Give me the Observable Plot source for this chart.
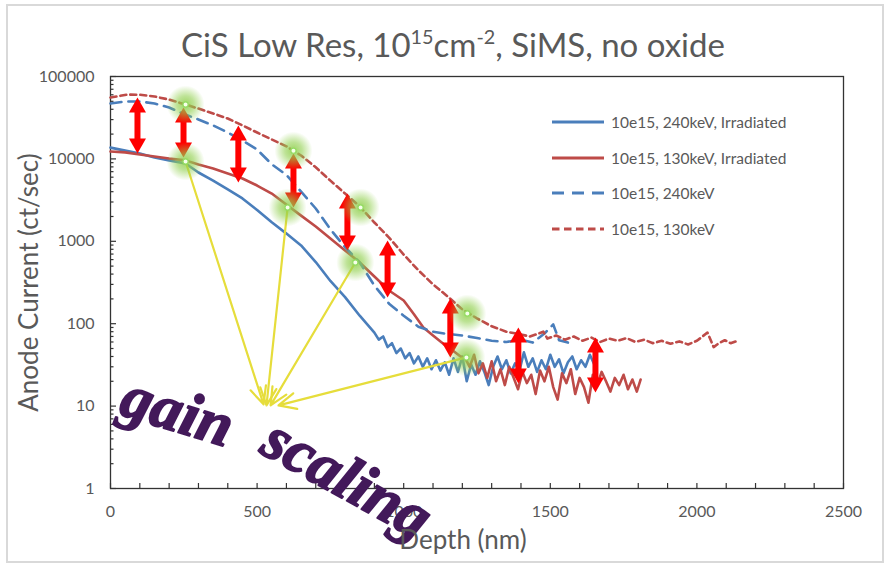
<!DOCTYPE html>
<html><head><meta charset="utf-8">
<script src="https://cdn.jsdelivr.net/npm/d3@7"></script>
<script src="https://cdn.jsdelivr.net/npm/@observablehq/plot@0.6"></script>
<style>
body{margin:0;background:#fff;}
#wrap{position:relative;width:894px;height:566px;overflow:hidden;font-family:Lato,"Open Sans",sans-serif;color:#595959;}
#border{position:absolute;left:6px;top:4px;width:878px;height:559px;border:2px solid #d9d9d9;box-sizing:border-box;}
#title{position:absolute;left:0;width:906px;top:25px;text-align:center;font-size:33px;line-height:38px;color:#595959;}
#title sup{font-size:0.6em;vertical-align:0.65em;line-height:0;}
#chart{position:absolute;left:0;top:0;}
#legend{position:absolute;left:552px;top:104px;font-size:15.5px;color:#595959;}
.row{height:35.7px;display:flex;align-items:center;}
.row svg{margin-right:7px;}
</style>
</head><body>
<div id="wrap">
  <div id="border"></div>
  <div id="chart"></div>
  <div id="title">CiS Low Res, 10<sup>15</sup>cm<sup>-2</sup>, SiMS, no oxide</div>
  <div id="legend"></div>
</div>
<script>
// ---------- data (depth in nm, anode current in ct/sec) ----------
const seriesNames = ["10e15, 240keV, Irradiated", "10e15, 130keV, Irradiated", "10e15, 240keV", "10e15, 130keV"];
const seriesColors = ["#4a7ebb", "#be4b48", "#4a7ebb", "#be4b48"];
const seriesDash = [null, null, "11,7", "6,4"];

const irr240Depth = [0,50,100,150,200,256,300,350,400,450,500,550,600,650,700,750,800,850,900,915,930,945,960,975,990,1005,1020,1035,1050,1065,1080,1095,1110,1125,1140,1155,1170,1185,1200,1215,1230,1245,1260,1275,1290,1305,1320,1335,1350,1365,1380,1395,1410,1425,1440,1455,1470,1485,1500,1515,1530,1545,1560,1575,1590,1605,1620,1635,1650];
const irr240Value = [13700,12600,11600,10400,9600,8800,6840,5450,4260,3310,2400,1700,1240,890,560,330,210,125,78,64,70,52,58,44,50,38,44,33,40,30,38,28,36,27,34,24,38,26,40,20,32,24,35,26,18,30,40,28,36,25,33,27,45,30,38,26,36,28,42,30,37,25,34,40,28,36,30,42,32];

const irr130Depth = [0,50,100,150,200,256,300,350,400,450,500,550,604,650,700,750,800,850,900,950,1000,1035,1067,1100,1135,1165,1194,1210,1225,1240,1255,1270,1285,1300,1315,1330,1345,1360,1375,1390,1405,1420,1435,1450,1465,1480,1495,1510,1525,1540,1555,1570,1585,1600,1615,1630,1645,1660,1675,1690,1705,1720,1735,1750,1765,1780,1795,1808];
const irr130Value = [12300,12000,11300,10700,10100,9600,8530,7640,6650,5780,4750,3800,2720,2050,1510,1080,775,553,374,253,191,130,90,72,57,48,40,38,30,42,25,33,22,35,20,28,18,30,22,16,26,19,24,14,27,20,30,17,12,25,19,28,14,22,17,11,24,18,26,20,15,22,18,24,16,21,15,21];

const ref240Depth = [0,50,100,150,200,256,300,350,400,450,500,550,600,650,700,750,800,850,900,950,1000,1050,1100,1150,1200,1250,1300,1350,1400,1440,1480,1510,1530,1560];
const ref240Value = [47000,49700,49700,47000,42000,34500,30100,25500,20900,16700,13000,8600,6400,4000,2500,1400,850,553,290,175,125,92,80,75,72,67,62,60,64,59,76,98,63,59];

const ref130Depth = [0,58,100,150,200,256,300,350,400,450,500,550,600,650,700,750,800,850,900,950,1000,1050,1100,1150,1200,1250,1300,1350,1400,1430,1460,1476,1490,1520,1550,1580,1610,1640,1670,1700,1730,1760,1790,1820,1850,1880,1910,1940,1970,2000,2036,2057,2075,2095,2115,2138];
const ref130Value = [55600,60300,60000,57200,52500,45700,40800,35600,30900,25500,20900,17200,14200,11000,7900,5450,3800,2650,1690,1110,690,445,300,214,149,116,93,80,74,70,76,80,66,72,64,70,62,68,60,66,62,67,60,64,58,62,57,61,56,62,78,52,58,63,58,62];

// axis ticks
const xTickLabels = [0,500,1000,1500,2000,2500];
const yTickLabels = [1,10,100,1000,10000,100000];

// annotations: red double arrows (gap between curves)
const arrowDepth  = [92,249,436,624,808,945,1159,1391,1654];
const arrowTop    = [55600,42000,25500,11600,3800,1020,202,90,68];
const arrowBottom = [11600,10400,5170,2570,775,208,39,18.8,14.6];

// green highlight points
const glowDepth = [256,256,624,604,853,835,1217,1214];
const glowValue = [45700,9300,12600,2570,2570,553,133,39];

// yellow arrows ("gain scaling")
const yellowFromDepth = [256,604,835,1214];
const yellowFromValue = [9300,2570,553,39];
const yellowToDepth   = [522,532,546,573];
const yellowToValue   = [10.5,10.2,10.2,10.2];

// hand-written note
const noteText  = ["gain","scaling"];
const noteDepth = [228,808];
const noteValue = [8.6,1.32];
const noteAngle = [17,29];

// ---------- build ----------
const depths = [irr240Depth, irr130Depth, ref240Depth, ref130Depth];
const values = [irr240Value, irr130Value, ref240Value, ref130Value];
const rows = depths.map((ds, k) => ds.map((d, i) => ({depth: d, value: values[k][i]})));

const headUp = {draw(ctx){ ctx.moveTo(0,0); ctx.lineTo(8.5,15); ctx.lineTo(-8.5,15); ctx.closePath(); }};
const headDown = {draw(ctx){ ctx.moveTo(0,0); ctx.lineTo(8.5,-15); ctx.lineTo(-8.5,-15); ctx.closePath(); }};

const arrowIdx = arrowDepth.map((_, i) => i);
const glowIdx = glowDepth.map((_, i) => i);
const yIdx = yellowFromDepth.map((_, i) => i);
const noteIdx = noteText.map((_, i) => i);

const yAllTicks = d3.scaleLog().domain([1, 100000]).ticks();
const xAllTicks = d3.range(0, 2501, 100);

const marks = [
  Plot.axisX({ticks: xTickLabels, tickSize: 0, tickPadding: 17, fontSize: 16, tickFormat: d => String(d), label: null}),
  Plot.axisY({ticks: yTickLabels, tickSize: 0, tickPadding: 16, fontSize: 16, tickFormat: d => String(d), label: null}),
  Plot.ruleX(xAllTicks, {x: d => d, y1: 1, y2: 1, insetTop: -5, stroke: "#333", strokeWidth: 1.2}),
  Plot.ruleY(yAllTicks.filter(d => yTickLabels.includes(d)), {y: d => d, x1: 0, x2: 0, insetRight: -6, stroke: "#333", strokeWidth: 1.2}),
  Plot.ruleY(yAllTicks.filter(d => !yTickLabels.includes(d)), {y: d => d, x1: 0, x2: 0, insetRight: -3.5, stroke: "#333", strokeWidth: 1.2}),
  Plot.frame({stroke: "#333", strokeWidth: 1.3})
];

rows.forEach((r, k) => {
  marks.push(Plot.line(r, {x: "depth", y: "value", stroke: seriesColors[k], strokeWidth: 2.6,
    strokeDasharray: seriesDash[k] || undefined, strokeLinejoin: "round"}));
});

marks.push(Plot.arrow(yIdx, {x1: i => yellowFromDepth[i], y1: i => yellowFromValue[i], x2: i => yellowToDepth[i], y2: i => yellowToValue[i],
  stroke: "#e6dd3b", strokeWidth: 2.2, headLength: 13, headAngle: 50}));

marks.push(Plot.ruleX(arrowIdx, {x: i => arrowDepth[i], y1: i => arrowTop[i], y2: i => arrowBottom[i], stroke: "#ff0000", strokeWidth: 6, insetTop: 12, insetBottom: 12}));
marks.push(Plot.dot(arrowIdx, {x: i => arrowDepth[i], y: i => arrowTop[i], symbol: headUp, fill: "#ff0000", stroke: null}));
marks.push(Plot.dot(arrowIdx, {x: i => arrowDepth[i], y: i => arrowBottom[i], symbol: headDown, fill: "#ff0000", stroke: null}));

marks.push(Plot.dot(glowIdx, {x: i => glowDepth[i], y: i => glowValue[i], r: 19, fill: "url(#glow)", stroke: null}));
marks.push(Plot.dot(glowIdx, {x: i => glowDepth[i], y: i => glowValue[i], r: 2.6, fill: "#f6ffe9", stroke: "#93dc62", strokeWidth: 1.2}));

marks.push(Plot.text(noteIdx, {x: i => noteDepth[i], y: i => noteValue[i], text: i => noteText[i], rotate: i => noteAngle[i],
  fontSize: 62, fontFamily: "'Liberation Serif', serif", fontStyle: "italic", fontWeight: "bold", fill: "#43195a",
  stroke: "#43195a", strokeWidth: 1.8}));

marks.push(Plot.text(["Anode Current (ct/sec)"], {frameAnchor: "left", textAnchor: "middle", lineAnchor: "middle", dx: -81, rotate: -90, fontSize: 26, fill: "#595959"}));
marks.push(Plot.text(["Depth (nm)"], {frameAnchor: "bottom", textAnchor: "middle", lineAnchor: "middle", dx: -14, dy: 52, fontSize: 26, fill: "#595959"}));

const chart = Plot.plot({
  width: 894, height: 566,
  marginLeft: 110, marginRight: 51, marginTop: 76, marginBottom: 78,
  style: {fontFamily: "Lato, 'Open Sans', sans-serif", background: "transparent", color: "#595959", overflow: "visible"},
  x: {domain: [0, 2500]},
  y: {type: "log", domain: [1, 100000]},
  marks
});
chart.insertAdjacentHTML("afterbegin",
  '<defs><radialGradient id="glow"><stop offset="0%" stop-color="#92d050" stop-opacity="0.9"/><stop offset="45%" stop-color="#92d050" stop-opacity="0.6"/><stop offset="100%" stop-color="#92d050" stop-opacity="0"/></radialGradient></defs>');
document.getElementById("chart").appendChild(chart);

// legend
const legend = document.getElementById("legend");
seriesNames.forEach((name, k) => {
  const row = document.createElement("div");
  row.className = "row";
  const dash = seriesDash[k] === "11,7" ? "12,8" : seriesDash[k] === "6,4" ? "7.5,4.5" : "";
  row.innerHTML = `<svg width="52" height="6"><line x1="0" y1="3" x2="52" y2="3" stroke="${seriesColors[k]}" stroke-width="3" ${dash ? `stroke-dasharray="${dash}"` : ""}/></svg><span>${name}</span>`;
  legend.appendChild(row);
});
</script>
</body></html>
